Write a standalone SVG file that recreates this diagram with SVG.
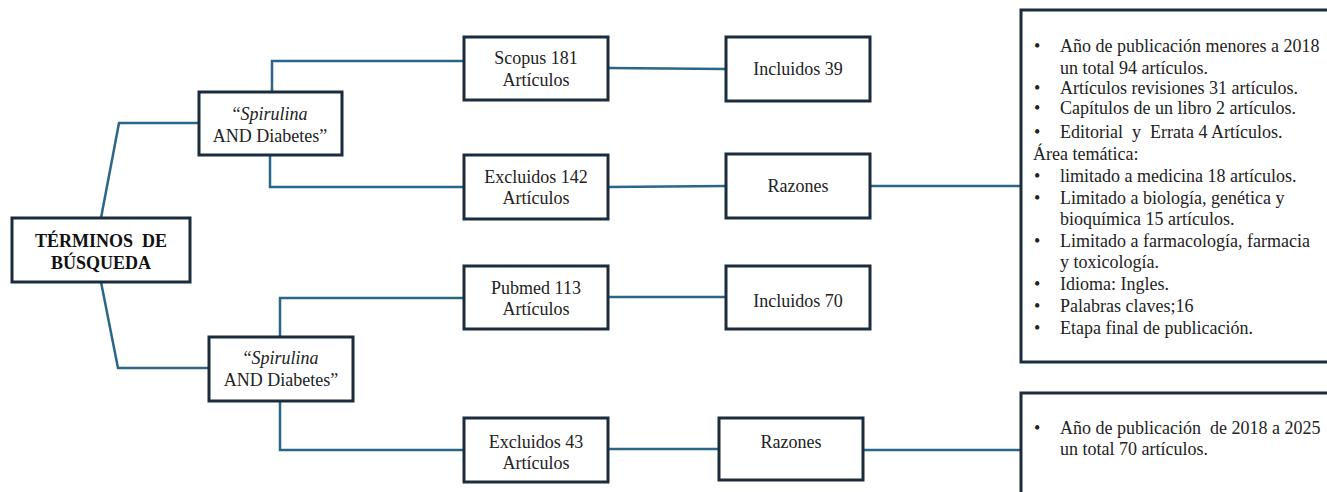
<svg xmlns="http://www.w3.org/2000/svg" width="1327" height="492" viewBox="0 0 1327 492">
<style>
.box{fill:#ffffff;stroke:#1b2d3d;stroke-width:3}
.con{fill:none;stroke:#2a6688;stroke-width:2.5;stroke-linejoin:miter}
text{font-family:"Liberation Serif","Times New Roman",serif;font-size:18px;fill:#222222}
.c{text-anchor:middle}
.b{font-weight:bold;fill:#111111}
</style>
<rect width="1327" height="492" fill="#ffffff"/>
<g id="connectors">
<polyline class="con" points="101,218 119,123 199,123"/>
<polyline class="con" points="101,282 118,368 209,368"/>
<polyline class="con" points="272,92 272,61 464,61"/>
<polyline class="con" points="270,156 270,187 464,187"/>
<polyline class="con" points="280,337 280,298 464,298"/>
<polyline class="con" points="280,401 280,450 464,450"/>
<line class="con" x1="608" y1="68" x2="726" y2="69"/>
<line class="con" x1="608" y1="187" x2="726" y2="186"/>
<line class="con" x1="870" y1="186" x2="1021" y2="186"/>
<line class="con" x1="608" y1="297" x2="726" y2="297"/>
<line class="con" x1="608" y1="449" x2="719" y2="449"/>
<line class="con" x1="863" y1="450" x2="1021" y2="450"/>
</g>
<g id="terminos">
<rect class="box" x="12" y="218" width="178" height="64"/>
<text class="c b" x="101" y="247" xml:space="preserve">TÉRMINOS  DE</text>
<text class="c b" x="101" y="269">BÚSQUEDA</text>
</g>
<g id="spirulina1">
<rect class="box" x="199" y="92" width="143" height="63"/>
<text class="c" x="270" y="120">“<tspan font-style="italic">Spirulina</tspan></text>
<text class="c" x="270" y="142">AND Diabetes”</text>
</g>
<g id="spirulina2">
<rect class="box" x="209" y="337" width="144" height="64"/>
<text class="c" x="281" y="364">“<tspan font-style="italic">Spirulina</tspan></text>
<text class="c" x="281" y="386">AND Diabetes”</text>
</g>
<g id="scopus">
<rect class="box" x="464" y="37" width="144" height="63"/>
<text class="c" x="536" y="64">Scopus 181</text>
<text class="c" x="536" y="86">Artículos</text>
</g>
<g id="incluidos39">
<rect class="box" x="726" y="37" width="144" height="64"/>
<text class="c" x="798" y="75">Incluidos 39</text>
</g>
<g id="excluidos142">
<rect class="box" x="464" y="155" width="144" height="64"/>
<text class="c" x="536" y="183">Excluidos 142</text>
<text class="c" x="536" y="204">Artículos</text>
</g>
<g id="razones1">
<rect class="box" x="726" y="154" width="144" height="64"/>
<text class="c" x="798" y="192">Razones</text>
</g>
<g id="pubmed">
<rect class="box" x="464" y="266" width="144" height="63"/>
<text class="c" x="536" y="294">Pubmed 113</text>
<text class="c" x="536" y="315">Artículos</text>
</g>
<g id="incluidos70">
<rect class="box" x="726" y="266" width="144" height="63"/>
<text class="c" x="798" y="307">Incluidos 70</text>
</g>
<g id="excluidos43">
<rect class="box" x="464" y="418" width="144" height="64"/>
<text class="c" x="536" y="448">Excluidos 43</text>
<text class="c" x="536" y="469">Artículos</text>
</g>
<g id="razones2">
<rect class="box" x="719" y="418" width="144" height="62"/>
<text class="c" x="791" y="448">Razones</text>
</g>
<g id="razones-detalle1">
<rect class="box" x="1021" y="10" width="330" height="352"/>
<text x="1034" y="52">•</text><text x="1060" y="52">Año de publicación menores a 2018</text>
<text x="1060" y="74">un total 94 artículos.</text>
<text x="1034" y="94">•</text><text x="1060" y="94">Artículos revisiones 31 artículos.</text>
<text x="1034" y="114">•</text><text x="1060" y="114">Capítulos de un libro 2 artículos.</text>
<text x="1034" y="138">•</text><text x="1060" y="138" xml:space="preserve">Editorial  y  Errata 4 Artículos.</text>
<text x="1033" y="160">Área temática:</text>
<text x="1034" y="182">•</text><text x="1060" y="182">limitado a medicina 18 artículos.</text>
<text x="1034" y="204">•</text><text x="1060" y="204">Limitado a biología, genética y</text>
<text x="1060" y="225">bioquímica 15 artículos.</text>
<text x="1034" y="247">•</text><text x="1060" y="247">Limitado a farmacología, farmacia</text>
<text x="1060" y="268">y toxicología.</text>
<text x="1034" y="290">•</text><text x="1060" y="290">Idioma: Ingles.</text>
<text x="1034" y="312">•</text><text x="1060" y="312">Palabras claves;16</text>
<text x="1034" y="334">•</text><text x="1060" y="334">Etapa final de publicación.</text>
</g>
<g id="razones-detalle2">
<rect class="box" x="1021" y="393" width="330" height="130"/>
<text x="1034" y="434">•</text><text x="1060" y="434" xml:space="preserve">Año de publicación  de 2018 a 2025</text>
<text x="1060" y="455">un total 70 artículos.</text>
</g>
</svg>
